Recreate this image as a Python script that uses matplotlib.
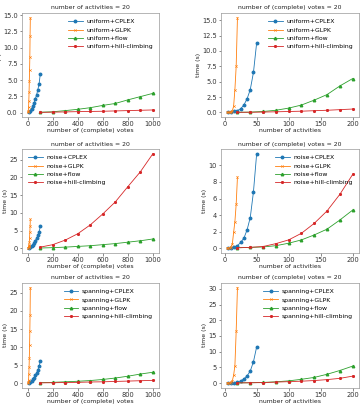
import matplotlib
matplotlib.use("Agg")
import matplotlib.pyplot as plt

# ---- data ----
votes_cplex = [10, 20, 30, 40, 50, 60, 70, 80, 90, 100]
votes_glpk = [2, 4, 6, 8, 10, 12, 14, 16, 18, 20]
votes_big = [100, 200, 300, 400, 500, 600, 700, 800, 900, 1000]
acts_cplex = [5, 10, 15, 20, 25, 30, 35, 40, 45, 50]
acts_glpk = [4, 6, 8, 10, 12, 14, 16, 18, 20]
acts_big = [20, 40, 60, 80, 100, 120, 140, 160, 180, 200]

uni_v_cplex = [0.1, 0.3, 0.6, 1.0, 1.5, 2.1, 2.7, 3.5, 4.4, 6.0]
uni_v_glpk = [0.02, 0.2, 0.8, 1.8, 3.2, 4.9, 6.6, 8.5, 11.8, 14.6]
uni_v_flow = [0.05, 0.12, 0.3, 0.5, 0.75, 1.1, 1.4, 1.95, 2.45, 2.95]
uni_v_hill = [0.03, 0.06, 0.1, 0.14, 0.17, 0.2, 0.25, 0.3, 0.35, 0.4]

uni_a_cplex = [0.0, 0.05, 0.15, 0.3, 0.6, 1.2, 2.2, 3.7, 6.5, 11.3]
uni_a_glpk = [0.0, 0.01, 0.03, 0.1, 0.3, 1.0, 3.7, 7.5, 15.4]
uni_a_flow = [0.02, 0.05, 0.15, 0.35, 0.7, 1.2, 2.0, 2.9, 4.3, 5.5]
uni_a_hill = [0.02, 0.03, 0.06, 0.1, 0.15, 0.2, 0.28, 0.35, 0.45, 0.55]

noi_v_cplex = [0.1, 0.3, 0.6, 1.0, 1.5, 2.1, 2.8, 3.6, 4.6, 6.2]
noi_v_glpk = [0.0, 0.05, 0.2, 0.5, 1.0, 1.8, 3.0, 4.5, 6.2, 8.2]
noi_v_flow = [0.05, 0.15, 0.3, 0.5, 0.7, 1.0, 1.3, 1.7, 2.1, 2.6]
noi_v_hill = [0.3, 1.0, 2.3, 4.1, 6.6, 9.7, 13.1, 17.4, 21.6, 26.7]

noi_a_cplex = [0.0, 0.05, 0.15, 0.3, 0.7, 1.2, 2.2, 3.7, 6.8, 11.4]
noi_a_glpk = [0.0, 0.02, 0.05, 0.2, 0.5, 1.9, 3.2, 5.3, 8.6]
noi_a_flow = [0.05, 0.1, 0.15, 0.3, 0.6, 1.0, 1.6, 2.3, 3.4, 4.6]
noi_a_hill = [0.05, 0.1, 0.2, 0.55, 1.0, 1.8, 3.0, 4.5, 6.5, 8.9]

spa_v_cplex = [0.1, 0.3, 0.6, 1.0, 1.5, 2.1, 2.8, 3.6, 4.6, 6.2]
spa_v_glpk = [0.0, 0.2, 0.8, 2.5, 4.5, 7.0, 10.5, 14.5, 19.0, 26.5]
spa_v_flow = [0.1, 0.2, 0.35, 0.5, 0.7, 1.0, 1.4, 1.9, 2.5, 3.0]
spa_v_hill = [0.05, 0.1, 0.15, 0.2, 0.3, 0.35, 0.45, 0.55, 0.65, 0.75]

spa_a_cplex = [0.0, 0.05, 0.15, 0.3, 0.7, 1.3, 2.3, 3.8, 6.8, 11.5]
spa_a_glpk = [0.0, 0.02, 0.05, 0.2, 0.7, 2.5, 5.5, 16.5, 30.4]
spa_a_flow = [0.05, 0.1, 0.2, 0.4, 0.7, 1.2, 1.8, 2.8, 4.0, 5.4]
spa_a_hill = [0.05, 0.1, 0.15, 0.3, 0.45, 0.6, 0.8, 1.1, 1.5, 2.2]

panels = [
    ("uniform", "votes", uni_v_cplex, uni_v_glpk, uni_v_flow, uni_v_hill, [0, 2.5, 5, 7.5, 10, 12.5, 15], "upper right"),
    ("uniform", "acts", uni_a_cplex, uni_a_glpk, uni_a_flow, uni_a_hill, [0, 2.5, 5, 7.5, 10, 12.5, 15], "upper right"),
    ("noise", "votes", noi_v_cplex, noi_v_glpk, noi_v_flow, noi_v_hill, [0, 5, 10, 15, 20, 25], "upper left"),
    ("noise", "acts", noi_a_cplex, noi_a_glpk, noi_a_flow, noi_a_hill, [0, 2, 4, 6, 8, 10], "upper right"),
    ("spanning", "votes", spa_v_cplex, spa_v_glpk, spa_v_flow, spa_v_hill, [0, 5, 10, 15, 20, 25], "upper right"),
    ("spanning", "acts", spa_a_cplex, spa_a_glpk, spa_a_flow, spa_a_hill, [0, 5, 10, 15, 20, 25, 30], "upper right"),
]

colors = ["#1f77b4", "#ff7f0e", "#2ca02c", "#d62728"]
fs = 4.4
tfs = 4.8

fig = plt.figure(figsize=(3.64, 4.04), dpi=100)
rows = [(0.710, 0.968), (0.374, 0.631), (0.040, 0.300)]
cols = [(0.060, 0.437), (0.607, 0.986)]

for i, (dist, kind, c, g, f, h, yt, loc) in enumerate(panels):
    r, col = divmod(i, 2)
    b, t = rows[r]
    l, rr = cols[col]
    ax = fig.add_axes([l, b, rr - l, t - b])
    if kind == "votes":
        xc, xg, xb = votes_cplex, votes_glpk, votes_big
        title = "number of activities = 20"
        xlabel = "number of (complete) votes"
        xt = [0, 200, 400, 600, 800, 1000]
    else:
        xc, xg, xb = acts_cplex, acts_glpk, acts_big
        title = "number of (complete) votes = 20"
        xlabel = "number of activities"
        xt = [0, 50, 100, 150, 200]
    kw = dict(lw=0.6, markersize=1.8)
    ax.plot(xc, c, marker="o", color=colors[0], label=f"{dist}+CPLEX", **kw)
    ax.plot(xg, g, marker="x", color=colors[1], label=f"{dist}+GLPK", markeredgewidth=0.4, **kw)
    ax.plot(xb, f, marker="^", color=colors[2], label=f"{dist}+flow", **kw)
    ax.plot(xb, h, marker="*", color=colors[3], label=f"{dist}+hill-climbing", **kw)
    ax.set_xticks(xt)
    ax.set_yticks(yt)
    if yt[1] == 2.5:
        ax.set_yticklabels([f"{v:.1f}" for v in yt])
    ax.tick_params(labelsize=tfs, length=1.8, width=0.4, pad=1.2, colors="#333333")
    ax.set_title(title, fontsize=fs, pad=2.5, color="#222222")
    ax.set_xlabel(xlabel, fontsize=fs, labelpad=0.8, color="#222222")
    ax.set_ylabel("time (s)", fontsize=fs, labelpad=1, color="#222222")
    for s in ax.spines.values():
        s.set_linewidth(0.5)
        s.set_color("#999999")
    ax.legend(loc=loc, fontsize=fs, frameon=False, handlelength=2.4,
              labelspacing=0.5, borderaxespad=0.6, handletextpad=0.6)

fig.savefig("out.png", dpi=100)
